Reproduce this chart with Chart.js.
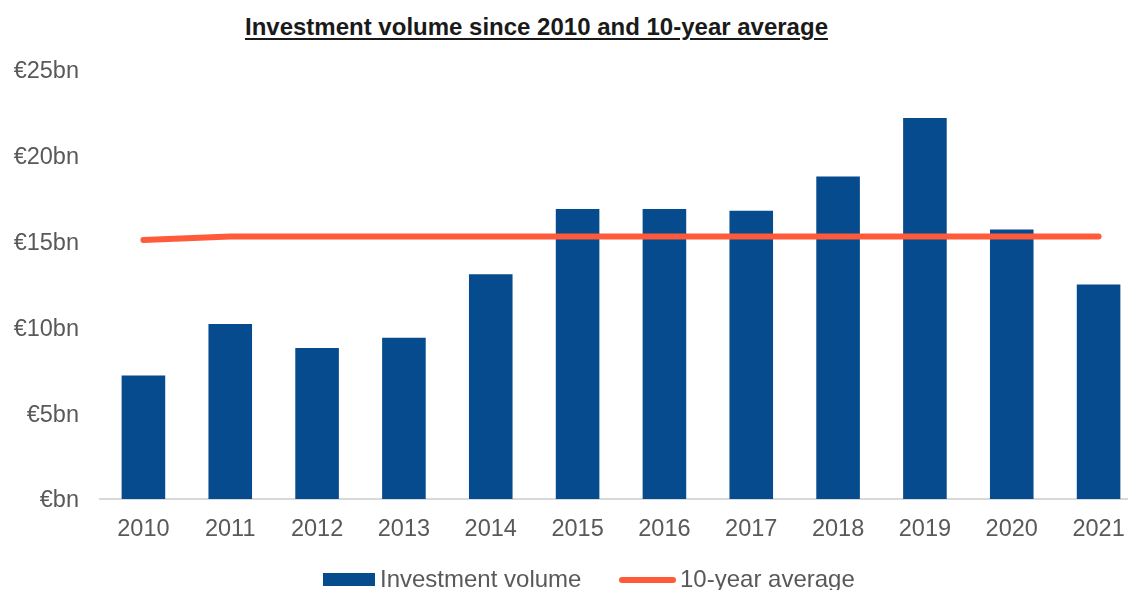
<!DOCTYPE html>
<html>
<head>
<meta charset="utf-8">
<script src="https://cdn.jsdelivr.net/npm/chart.js@4"></script>
<style>
  html, body { margin: 0; padding: 0; background: #ffffff; width: 1128px; height: 590px; overflow: hidden; }
  #wrap { position: relative; width: 1128px; height: 590px; overflow: hidden; }
  #c { position: absolute; left: 0; top: 0; }
  #title { position: absolute; left: 245px; top: 15px; font: bold 24px "Liberation Sans", Arial, sans-serif; line-height: 24px; color: #1a1a1a; text-decoration: underline; text-underline-offset: 3px; white-space: nowrap; }
  .lg-text { position: absolute; font: 24px "Liberation Sans", Arial, sans-serif; line-height: 24px; color: #595959; white-space: nowrap; }
  .lg-box { position: absolute; }
</style>
</head>
<body>
<div id="wrap">
  <div id="title">Investment volume since 2010 and 10-year average</div>
  <canvas id="c" width="1142" height="590"></canvas>
</div>
<script>
const years = ['2010','2011','2012','2013','2014','2015','2016','2017','2018','2019','2020','2021'];
const investmentVolume = [7.2, 10.2, 8.8, 9.4, 13.1, 16.9, 16.9, 16.8, 18.8, 22.2, 15.7, 12.5];
const tenYearAverage = [15.1, 15.3, 15.3, 15.3, 15.3, 15.3, 15.3, 15.3, 15.3, 15.3, 15.3, 15.3];
const yTickValues = [0, 5, 10, 15, 20, 25];
const yTickLabels = ['€bn', '€5bn', '€10bn', '€15bn', '€20bn', '€25bn'];
const seriesNames = ['Investment volume', '10-year average'];

const BAR_COLOR = '#054B8D';
const LINE_COLOR = '#FF5B3B';
const TEXT_COLOR = '#595959';
const FONT = '"Liberation Sans", Arial, sans-serif';

const chart = new Chart(document.getElementById('c'), {
  type: 'bar',
  data: {
    labels: years,
    datasets: [
      {
        type: 'line',
        label: seriesNames[1],
        data: tenYearAverage,
        borderColor: LINE_COLOR,
        backgroundColor: LINE_COLOR,
        borderWidth: 6,
        borderCapStyle: 'round',
        borderJoinStyle: 'round',
        pointRadius: 0,
        tension: 0,
        order: 0
      },
      {
        type: 'bar',
        label: seriesNames[0],
        data: investmentVolume,
        backgroundColor: BAR_COLOR,
        borderWidth: 0,
        categoryPercentage: 1.0,
        barPercentage: 0.502,
        order: 1
      }
    ]
  },
  options: {
    responsive: false,
    animation: false,
    devicePixelRatio: 1,
    layout: { padding: { top: 70, left: 0, right: 0, bottom: 0 } },
    plugins: {
      legend: { display: false },
      title: { display: false },
      tooltip: { enabled: false }
    },
    scales: {
      x: {
        grid: { display: false, drawTicks: false },
        border: { display: true, color: '#d9d9d9', width: 2 },
        ticks: { color: TEXT_COLOR, font: { family: FONT, size: 23.5 }, padding: 16, maxRotation: 0, autoSkip: false },
        afterFit: (s) => { s.height = 91; }
      },
      y: {
        min: 0,
        max: 25,
        grid: { display: false, drawTicks: false },
        border: { display: false },
        afterBuildTicks: (s) => { s.ticks = yTickValues.map(v => ({ value: v })); },
        ticks: {
          color: TEXT_COLOR,
          font: { family: FONT, size: 23.5 },
          padding: 21,
          labelOffset: 2,
          callback: (v) => { const i = yTickValues.indexOf(v); return i >= 0 ? yTickLabels[i] : ''; }
        },
        afterFit: (s) => { s.width = 100; }
      }
    }
  }
});

// HTML legend built from the chart's datasets
(function buildLegend() {
  const wrap = document.getElementById('wrap');
  const barDs = chart.data.datasets.find(d => d.type === 'bar');
  const lineDs = chart.data.datasets.find(d => d.type === 'line');
  const items = [
    { ds: barDs, swatch: { left: 323, top: 573, width: 52, height: 13, radius: 0 }, textLeft: 380 },
    { ds: lineDs, swatch: { left: 619, top: 577, width: 57, height: 6, radius: 3 }, textLeft: 680 }
  ];
  items.forEach(it => {
    const b = document.createElement('div');
    b.className = 'lg-box';
    b.style.left = it.swatch.left + 'px';
    b.style.top = it.swatch.top + 'px';
    b.style.width = it.swatch.width + 'px';
    b.style.height = it.swatch.height + 'px';
    b.style.borderRadius = it.swatch.radius + 'px';
    b.style.background = it.ds.type === 'bar' ? it.ds.backgroundColor : it.ds.borderColor;
    wrap.appendChild(b);
    const t = document.createElement('div');
    t.className = 'lg-text';
    t.style.left = it.textLeft + 'px';
    t.style.top = '567px';
    t.textContent = it.ds.label;
    wrap.appendChild(t);
  });
})();
</script>
</body>
</html>
